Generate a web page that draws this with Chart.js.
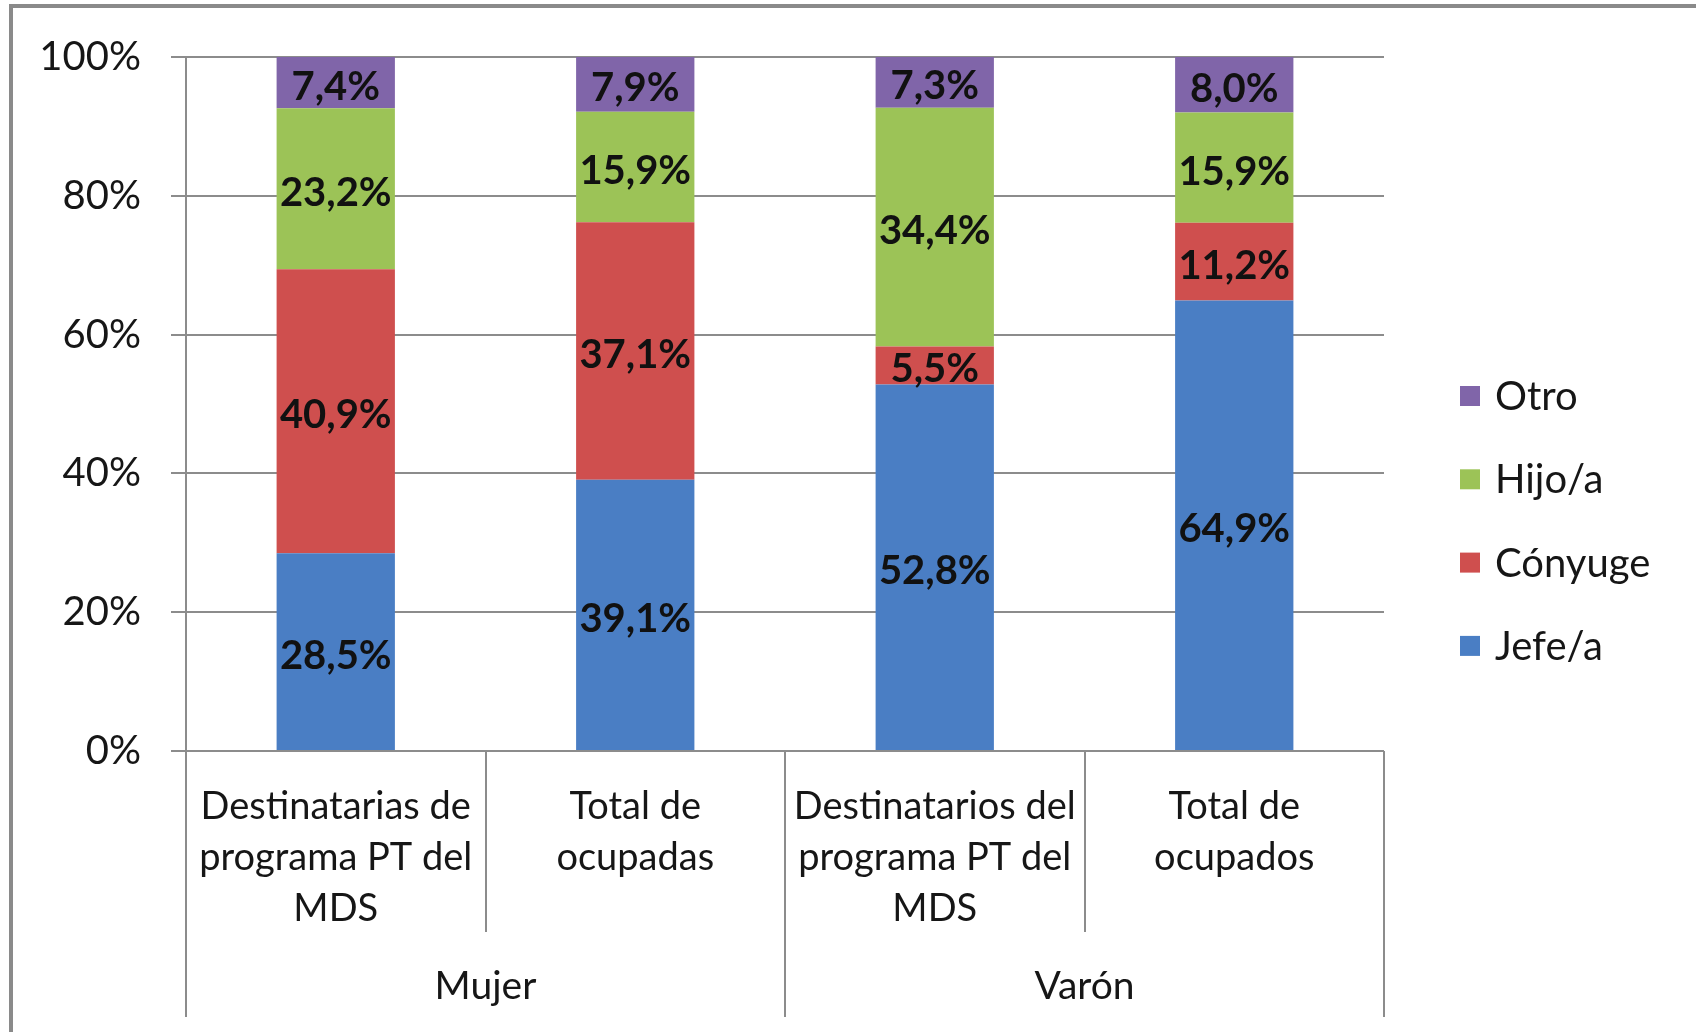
<!DOCTYPE html>
<html><head><meta charset="utf-8">
<script src="https://cdn.jsdelivr.net/npm/chart.js@4.4.1/dist/chart.umd.min.js"></script>
<style>html,body{margin:0;padding:0;background:#fff;overflow:hidden}#wrap{position:relative;width:1696px;height:1032px}</style>
</head><body><div id="wrap"><canvas id="c" width="1696" height="1032"></canvas></div>
<script>
const categories = [
  ['Destinatarias de', 'programa PT del', 'MDS'],
  ['Total de', 'ocupadas'],
  ['Destinatarios del', 'programa PT del', 'MDS'],
  ['Total de', 'ocupados']
];
const groups = ['Mujer', 'Varón'];
const groupSpans = [2, 2];
const seriesNames = ['Jefe/a', 'Cónyuge', 'Hijo/a', 'Otro'];
const jefe = [28.5, 39.1, 52.8, 64.9];
const conyuge = [40.9, 37.1, 5.5, 11.2];
const hijo = [23.2, 15.9, 34.4, 15.9];
const otro = [7.4, 7.9, 7.3, 8.0];
const yTicks = [0, 20, 40, 60, 80, 100];

const colors = ['#4a7ec4', '#cf4f4e', '#9cc357', '#8065a9'];
const FONT = 'Lato, "Open Sans", sans-serif';
const TEXT = '#161616';
const GRID = '#8c8c8c';

const frame = {
  id: 'frame',
  beforeDraw(chart) {
    const c = chart.ctx;
    c.save();
    c.fillStyle = '#fff';
    c.fillRect(0, 0, chart.width, chart.height);
    c.fillStyle = '#8a8a8a';
    c.fillRect(9, 4, chart.width - 9, 4);
    c.fillRect(9, 4, 4, chart.height - 4);
    c.restore();
  }
};

const dataLabels = {
  id: 'dataLabels',
  afterDatasetsDraw(chart) {
    const c = chart.ctx;
    c.save();
    c.font = 'bold 40px ' + FONT;
    c.fillStyle = '#111';
    c.textAlign = 'center';
    c.textBaseline = 'middle';
    chart.data.datasets.forEach((ds, di) => {
      const meta = chart.getDatasetMeta(di);
      meta.data.forEach((el, i) => {
        const v = ds.data[i];
        const txt = v.toFixed(1).replace('.', ',') + '%';
        c.fillText(txt, el.x, (el.y + el.base) / 2 + 4);
      });
    });
    c.restore();
  }
};

const hierarchy = {
  id: 'hierarchy',
  afterDraw(chart) {
    const c = chart.ctx;
    const xs = chart.scales.x;
    const area = chart.chartArea;
    const n = categories.length;
    const bounds = [];
    for (let i = 0; i <= n; i++) {
      if (i === 0) bounds.push(area.left);
      else if (i === n) bounds.push(area.right);
      else bounds.push((xs.getPixelForValue(i - 1) + xs.getPixelForValue(i)) / 2);
    }
    const groupEdges = [0];
    groupSpans.forEach(s => groupEdges.push(groupEdges[groupEdges.length - 1] + s));
    c.save();
    c.strokeStyle = GRID;
    c.lineWidth = 2;
    bounds.forEach((bx, i) => {
      const isGroup = groupEdges.includes(i);
      c.beginPath();
      c.moveTo(Math.round(bx), area.bottom);
      c.lineTo(Math.round(bx), isGroup ? 1017 : 932);
      c.stroke();
    });
    c.font = '39px ' + FONT;
    c.fillStyle = TEXT;
    c.textAlign = 'center';
    c.textBaseline = 'middle';
    groups.forEach((g, gi) => {
      const cx = (bounds[groupEdges[gi]] + bounds[groupEdges[gi + 1]]) / 2;
      c.fillText(g, cx, 986);
    });
    c.restore();
  }
};

const legendPlugin = {
  id: 'customLegend',
  afterDraw(chart) {
    const c = chart.ctx;
    c.save();
    c.font = '40px ' + FONT;
    c.textAlign = 'left';
    c.textBaseline = 'middle';
    const dsList = chart.data.datasets.slice().reverse();
    dsList.forEach((ds, i) => {
      const y = 396 + i * 83.3;
      c.fillStyle = ds.backgroundColor;
      c.fillRect(1460, y - 10, 20, 20);
      c.fillStyle = TEXT;
      c.fillText(ds.label, 1495, y + 1);
    });
    c.restore();
  }
};

const seriesData = [jefe, conyuge, hijo, otro];

new Chart(document.getElementById('c'), {
  type: 'bar',
  data: {
    labels: categories,
    datasets: seriesNames.map((name, i) => ({
      label: name,
      data: seriesData[i],
      backgroundColor: colors[i],
      borderWidth: 0,
      categoryPercentage: 1,
      barPercentage: 0.395
    }))
  },
  options: {
    responsive: false,
    animation: false,
    events: [],
    layout: { padding: { left: 0, right: 312, top: 57, bottom: 0 } },
    plugins: { legend: { display: false }, tooltip: { enabled: false } },
    scales: {
      x: {
        stacked: true,
        grid: { display: false, drawTicks: false },
        border: { display: false },
        ticks: {
          color: TEXT,
          font: { family: FONT, size: 38, lineHeight: 1.342 },
          padding: 30,
          maxRotation: 0,
          autoSkip: false
        },
        afterFit(s) { s.height = 281; }
      },
      y: {
        stacked: true,
        min: 0,
        max: 100,
        afterBuildTicks(s) { s.ticks = yTicks.map(v => ({ value: v })); },
        grid: { color: GRID, lineWidth: 2, tickLength: 15 },
        border: { display: true, color: GRID, width: 2 },
        ticks: {
          color: TEXT,
          font: { family: FONT, size: 40 },
          padding: 30,
          callback: v => v + '%'
        },
        afterFit(s) { s.width = 186; }
      }
    }
  },
  plugins: [frame, dataLabels, hierarchy, legendPlugin]
});
</script></body></html>
